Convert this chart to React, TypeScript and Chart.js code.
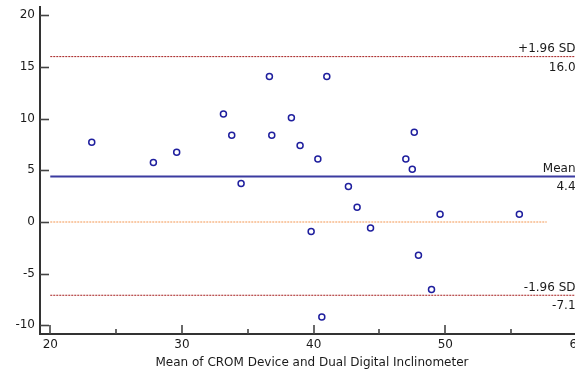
import React, { useEffect, useRef } from "react";
import { Chart, registerables } from "chart.js";

Chart.register(...registerables);

// Bland–Altman data: mean of the two devices vs. their difference
const meanOfMethods = [
  23.15, 27.83, 29.6, 33.15, 33.78, 34.49, 36.64, 36.82, 38.31, 38.97, 39.81, 40.32,
  40.62, 41.0, 42.64, 43.3, 44.32, 47.0, 47.49, 47.64, 47.96, 48.95, 49.6, 55.62,
];
const differences = [
  7.72, 5.75, 6.75, 10.44, 8.4, 3.71, 14.08, 8.4, 10.08, 7.39, -0.94, 6.1,
  -9.2, 14.08, 3.42, 1.42, -0.58, 6.1, 5.1, 8.68, -3.23, -6.55, 0.74, 0.74,
];

const meanDifference = 4.4;
const upperLimit = 16.0;
const lowerLimit = -7.1;

const lineStartX = 20;
const lineEndX = 60;
const zeroLineEndX = 57.7;

const xTicks = [20, 30, 40, 50, 60];
const xMinorTicks = [25, 35, 45, 55];
const yTicks = [-10, -5, 0, 5, 10, 15, 20];

const xTitle = "Mean of CROM Device and Dual Digital Inclinometer";
const FONT = "'DejaVu Sans', 'Liberation Sans', sans-serif";

const CANVAS_W = 600;
const CANVAS_H = 371;

// Detached axes with inward tick marks, plus the labels at the end of each limit line
const axesPlugin = {
  id: "baAxes",
  afterDatasetsDraw(chart: any) {
    const { ctx, chartArea, scales } = chart;
    const xs = scales.x;
    const ys = scales.y;
    ctx.save();

    // limit labels
    ctx.fillStyle = "#1a1a1a";
    ctx.font = `12px ${FONT}`;
    ctx.textAlign = "right";
    ctx.textBaseline = "alphabetic";
    const labelX = xs.getPixelForValue(lineEndX) - 1.5;
    const limits: [string, number][] = [
      ["+1.96 SD", upperLimit],
      ["Mean", meanDifference],
      ["-1.96 SD", lowerLimit],
    ];
    for (const [name, v] of limits) {
      const py = ys.getPixelForValue(v);
      ctx.fillText(name, labelX, py - 4.5);
      ctx.fillText(v.toFixed(1), labelX, py + 14);
    }

    // axis lines
    ctx.strokeStyle = "#333333";
    ctx.lineWidth = 2;
    ctx.beginPath();
    ctx.moveTo(chartArea.left, chartArea.top);
    ctx.lineTo(chartArea.left, chartArea.bottom);
    ctx.lineTo(chartArea.right + 20, chartArea.bottom);
    ctx.stroke();

    // y ticks (pointing right)
    ctx.strokeStyle = "#444444";
    ctx.lineWidth = 1.6;
    for (const t of yTicks) {
      const py = Math.round(ys.getPixelForValue(t)) + 0.5;
      ctx.beginPath();
      ctx.moveTo(chartArea.left, py);
      ctx.lineTo(chartArea.left + 9, py);
      ctx.stroke();
    }
    // x ticks (pointing up)
    for (const t of xTicks) {
      const px = Math.round(xs.getPixelForValue(t));
      ctx.beginPath();
      ctx.moveTo(px, chartArea.bottom);
      ctx.lineTo(px, chartArea.bottom - 9);
      ctx.stroke();
    }
    for (const t of xMinorTicks) {
      const px = Math.round(xs.getPixelForValue(t));
      ctx.beginPath();
      ctx.moveTo(px, chartArea.bottom);
      ctx.lineTo(px, chartArea.bottom - 5);
      ctx.stroke();
    }
    ctx.restore();
  },
};

export default function App() {
  const canvasRef = useRef<HTMLCanvasElement | null>(null);

  useEffect(() => {
    const canvas = canvasRef.current;
    if (!canvas) return;
    const points = meanOfMethods.map((x, i) => ({ x, y: differences[i] }));
    const hLine = (y: number, endX: number) => [
      { x: lineStartX, y },
      { x: endX, y },
    ];

    const chart = new Chart(canvas, {
      type: "scatter",
      data: {
        datasets: [
          {
            type: "line",
            label: "zero",
            data: hLine(0, zeroLineEndX),
            borderColor: "#f7b98a",
            borderWidth: 1.5,
            borderDash: [2, 1],
            pointRadius: 0,
            showLine: true,
            order: 4,
          },
          {
            type: "line",
            label: "+1.96 SD",
            data: hLine(upperLimit, lineEndX),
            borderColor: "#a51c1c",
            borderWidth: 1,
            borderDash: [2, 1],
            pointRadius: 0,
            showLine: true,
            order: 3,
          },
          {
            type: "line",
            label: "-1.96 SD",
            data: hLine(lowerLimit, lineEndX),
            borderColor: "#a51c1c",
            borderWidth: 1,
            borderDash: [2, 1],
            pointRadius: 0,
            showLine: true,
            order: 3,
          },
          {
            type: "line",
            label: "Mean",
            data: hLine(meanDifference, lineEndX),
            borderColor: "#3b3ba0",
            borderWidth: 2,
            pointRadius: 0,
            showLine: true,
            order: 2,
          },
          {
            label: "Differences",
            data: points,
            pointRadius: 3,
            pointBorderWidth: 1.5,
            pointBackgroundColor: "rgba(0,0,0,0)",
            pointBorderColor: "#1f1f9e",
            order: 1,
          },
        ],
      },
      options: {
        responsive: false,
        animation: false,
        events: [],
        layout: { padding: { top: 6, right: CANVAS_W - 584, left: 0, bottom: 0 } },
        plugins: {
          legend: { display: false },
          tooltip: { enabled: false },
          title: { display: false },
        },
        scales: {
          x: {
            type: "linear",
            min: 19.22,
            max: 60.53,
            grid: { display: false, drawTicks: false },
            border: { display: false },
            ticks: {
              stepSize: 10,
              includeBounds: false,
              padding: 4,
              color: "#1a1a1a",
              font: { family: FONT, size: 12 },
            },
            afterBuildTicks: (scale: any) => {
              scale.ticks = xTicks.map((v) => ({ value: v }));
            },
            title: {
              display: true,
              text: xTitle,
              color: "#1a1a1a",
              font: { family: FONT, size: 12 },
              padding: { top: 0, bottom: 1 },
            },
            afterFit: (scale: any) => {
              scale.height = CANVAS_H - 334;
              scale.paddingLeft = 0;
              scale.paddingRight = 0;
            },
          },
          y: {
            type: "linear",
            min: -10.85,
            max: 20.9,
            grid: { display: false, drawTicks: false },
            border: { display: false },
            ticks: {
              stepSize: 5,
              includeBounds: false,
              padding: 5,
              color: "#1a1a1a",
              font: { family: FONT, size: 12 },
            },
            afterBuildTicks: (scale: any) => {
              scale.ticks = yTicks.map((v) => ({ value: v }));
            },
            afterFit: (scale: any) => {
              scale.width = 40;
              scale.paddingTop = 0;
              scale.paddingBottom = 0;
            },
          },
        },
      },
      plugins: [axesPlugin],
    } as any);

    return () => chart.destroy();
  }, []);

  return (
    <div
      style={{
        position: "fixed",
        left: 0,
        top: 0,
        width: 575,
        height: 371,
        overflow: "hidden",
        background: "#ffffff",
      }}
    >
      <canvas
        ref={canvasRef}
        width={CANVAS_W}
        height={CANVAS_H}
        style={{ display: "block", width: CANVAS_W, height: CANVAS_H }}
      />
    </div>
  );
}
